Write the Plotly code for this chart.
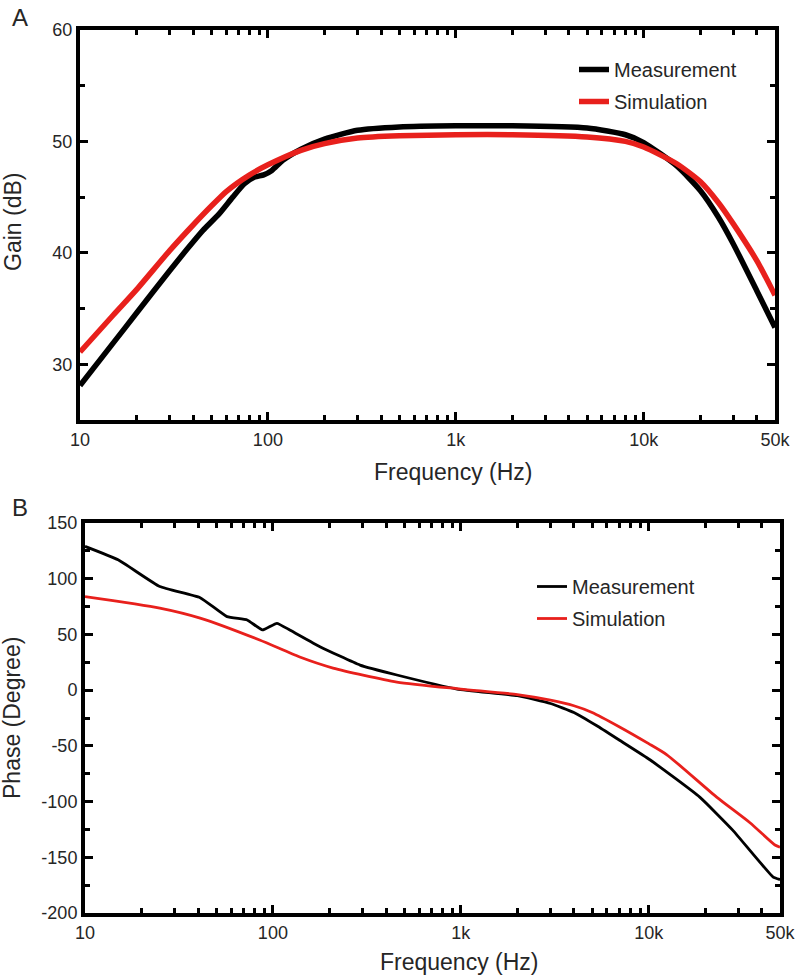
import plotly.graph_objects as go

# ---- Panel A: gain ----
gain_meas_f = [10, 15, 20, 30, 37, 45, 55, 65, 75, 85, 95, 105, 120, 150, 200, 300, 500, 1000, 2000, 5000, 8000, 10000, 15000, 20000, 25000, 30000, 40000, 50000]
gain_meas_db = [28.1, 31.9, 34.6, 38.4, 40.3, 42.0, 43.5, 45.0, 46.2, 46.8, 47.0, 47.4, 48.3, 49.3, 50.2, 51.0, 51.3, 51.4, 51.4, 51.2, 50.6, 49.9, 47.8, 45.6, 43.2, 40.8, 36.6, 33.3]
gain_sim_f = [10, 15, 20, 30, 40, 50, 60, 80, 100, 150, 200, 300, 500, 1000, 2000, 5000, 8000, 10000, 15000, 20000, 25000, 30000, 40000, 50000]
gain_sim_db = [31.1, 34.4, 36.7, 40.2, 42.5, 44.2, 45.5, 47.0, 47.9, 49.2, 49.8, 50.3, 50.5, 50.6, 50.6, 50.4, 50.0, 49.5, 48.0, 46.4, 44.5, 42.6, 39.3, 36.2]

# ---- Panel B: phase ----
phase_meas_f = [10, 15, 25, 41, 57, 73, 88, 105, 123, 178, 291, 457, 955, 2000, 3000, 4000, 5300, 7000, 10200, 18700, 28000, 46000, 50000]
phase_meas_deg = [129, 117, 93, 83, 66, 63, 54, 60, 54, 39, 22.5, 13.6, 1.0, -5, -12, -20, -32, -45, -62.7, -96, -125.6, -167.8, -170]
phase_sim_f = [10, 25, 41, 85, 139, 209, 457, 1000, 2000, 3000, 4000, 5000, 7000, 10000, 12500, 23000, 34600, 47000, 50000]
phase_sim_deg = [84, 73.7, 64.7, 45, 29.7, 19.8, 7.3, 1.0, -4, -9, -14, -20, -33, -48, -58, -96, -119, -139, -141]

x_tickvals = [10, 100, 1000, 10000, 50000]
x_ticktext = ["10", "100", "1k", "10k", "50k"]
gain_tickvals = [30, 40, 50, 60]
gain_ticktext = ["30", "40", "50", "60"]
phase_tickvals = [-200, -150, -100, -50, 0, 50, 100, 150]
phase_ticktext = ["-200", "-150", "-100", "-50", "0", "50", "100", "150"]
series_names = ["Measurement", "Simulation"]

BLACK = "#000000"
RED = "#e8201c"
TXT = "#262626"
FONT = "Liberation Sans, Arial, sans-serif"

fig = go.Figure()
fig.add_trace(go.Scatter(x=gain_meas_f, y=gain_meas_db, mode="lines", name=series_names[0],
                         line=dict(color=BLACK, width=5.5, shape="spline", smoothing=0.6),
                         xaxis="x", yaxis="y", legend="legend", legendgroup="a1"))
fig.add_trace(go.Scatter(x=gain_sim_f, y=gain_sim_db, mode="lines", name=series_names[1],
                         line=dict(color=RED, width=5.5, shape="spline", smoothing=0.6),
                         xaxis="x", yaxis="y", legend="legend", legendgroup="a2"))
fig.add_trace(go.Scatter(x=phase_meas_f, y=phase_meas_deg, mode="lines", name=series_names[0],
                         line=dict(color=BLACK, width=2.8, shape="spline", smoothing=0.4),
                         xaxis="x2", yaxis="y2", legend="legend2", legendgroup="b1"))
fig.add_trace(go.Scatter(x=phase_sim_f, y=phase_sim_deg, mode="lines", name=series_names[1],
                         line=dict(color=RED, width=2.8, shape="spline", smoothing=0.6),
                         xaxis="x2", yaxis="y2", legend="legend2", legendgroup="b2"))

W, H = 800, 976
def px_x(p):
    return p / W
def px_y(p):
    return 1 - p / H

minor_vals = [m * 10 ** e for e in range(1, 5) for m in range(2, 10) if m * 10 ** e < 50000]

axis_common = dict(showline=True, linewidth=4, linecolor="black", mirror="allticks",
                   ticks="inside", ticklen=8, tickwidth=3, tickcolor="black",
                   showgrid=False, zeroline=False, automargin=False,
                   tickfont=dict(family=FONT, size=18, color=TXT))
minor_common = dict(ticks="inside", ticklen=5, tickwidth=3, tickcolor="black", showgrid=False)

xa = dict(axis_common, type="log", range=[1, 4.69897], tickvals=x_tickvals, ticktext=x_ticktext,
          minor=dict(minor_common, tickvals=minor_vals))

fig.update_layout(
    width=W, height=H,
    margin=dict(l=0, r=0, t=0, b=0, autoexpand=False),
    paper_bgcolor="white", plot_bgcolor="white",
    font=dict(family=FONT, size=18, color=TXT),
    xaxis=dict(xa, domain=[px_x(80), px_x(775)], anchor="y"),
    yaxis=dict(axis_common, range=[25, 60], tickvals=gain_tickvals, ticktext=gain_ticktext,
               minor=dict(minor_common, tickvals=[35, 45, 55]),
               domain=[px_y(420), px_y(30)], anchor="x"),
    xaxis2=dict(xa, domain=[px_x(85), px_x(780)], anchor="y2"),
    yaxis2=dict(axis_common, range=[-200, 150], tickvals=phase_tickvals, ticktext=phase_ticktext,
                minor=dict(minor_common, dtick=25),
                domain=[px_y(913), px_y(523)], anchor="x2"),
    legend=dict(x=px_x(574), y=px_y(50), xanchor="left", yanchor="top", bgcolor="rgba(0,0,0,0)",
                font=dict(family=FONT, size=20, color=TXT), tracegroupgap=3),
    legend2=dict(x=px_x(532), y=px_y(567), xanchor="left", yanchor="top", bgcolor="rgba(0,0,0,0)",
                 font=dict(family=FONT, size=20, color=TXT), tracegroupgap=3),
    annotations=[
        dict(text="A", x=px_x(10), y=px_y(18), xref="paper", yref="paper", showarrow=False,
             xanchor="left", yanchor="middle", font=dict(family=FONT, size=24, color=TXT)),
        dict(text="B", x=px_x(10), y=px_y(508), xref="paper", yref="paper", showarrow=False,
             xanchor="left", yanchor="middle", font=dict(family=FONT, size=24, color=TXT)),
        dict(text="Gain (dB)", x=px_x(13), y=px_y(222), xref="paper", yref="paper", showarrow=False,
             textangle=-90, xanchor="center", yanchor="middle", font=dict(family=FONT, size=23, color=TXT)),
        dict(text="Phase (Degree)", x=px_x(12), y=px_y(718), xref="paper", yref="paper", showarrow=False,
             textangle=-90, xanchor="center", yanchor="middle", font=dict(family=FONT, size=23, color=TXT)),
        dict(text="Frequency (Hz)", x=px_x(453), y=px_y(472), xref="paper", yref="paper", showarrow=False,
             xanchor="center", yanchor="middle", font=dict(family=FONT, size=23, color=TXT)),
        dict(text="Frequency (Hz)", x=px_x(459), y=px_y(962), xref="paper", yref="paper", showarrow=False,
             xanchor="center", yanchor="middle", font=dict(family=FONT, size=23, color=TXT)),
    ],
)

fig.write_html("out.html", post_script="document.body.style.margin='0px';",
               config={"displayModeBar": False})
